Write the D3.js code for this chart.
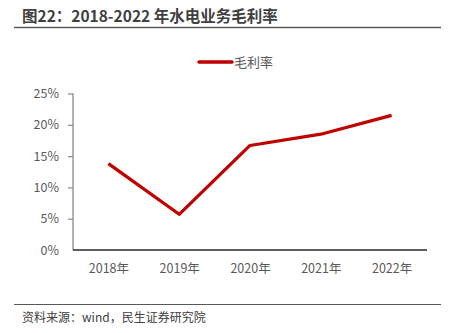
<!DOCTYPE html>
<html>
<head>
<meta charset="utf-8">
<script src="https://cdn.jsdelivr.net/npm/d3@7"></script>
<style>
  html, body { margin: 0; padding: 0; background: #fff; }
  svg { display: block; font-family: "Noto Sans CJK SC", "Noto Sans", sans-serif; }
</style>
</head>
<body>
<svg id="chart" width="455" height="333"></svg>
<script>
// Hydropower business gross margin, 2018-2022
const years = ["2018年", "2019年", "2020年", "2021年", "2022年"];
const grossMargin = [13.8, 5.7, 16.7, 18.5, 21.5];
const yTicks = [0, 5, 10, 15, 20, 25];
const seriesName = "毛利率";
const titleText = "图22：2018-2022 年水电业务毛利率";
const sourceText = "资料来源：wind，民生证券研究院";

const svg = d3.select("#chart");
const plot = { left: 73, right: 427, top: 93.5, bottom: 250 };

const x = d3.scalePoint().domain(years).range([plot.left, plot.right]).padding(0.5);
const y = d3.scaleLinear().domain([0, 25]).range([plot.bottom, plot.top]);

// Title and rules
svg.append("text")
  .attr("x", 22).attr("y", 22)
  .attr("font-size", 15.5).attr("font-weight", "bold").attr("fill", "#404040")
  .text(titleText);
svg.append("line")
  .attr("x1", 14).attr("x2", 441).attr("y1", 27.5).attr("y2", 27.5)
  .attr("stroke", "#595959").attr("stroke-width", 1.5);
svg.append("line")
  .attr("x1", 14).attr("x2", 441).attr("y1", 304.5).attr("y2", 304.5)
  .attr("stroke", "#595959").attr("stroke-width", 1.2);
svg.append("text")
  .attr("x", 22).attr("y", 322)
  .attr("font-size", 12).attr("fill", "#404040")
  .text(sourceText);

// Legend
svg.append("line")
  .attr("x1", 199).attr("x2", 232).attr("y1", 62).attr("y2", 62)
  .attr("stroke", "#C00000").attr("stroke-width", 3.5).attr("stroke-linecap", "round");
svg.append("text")
  .attr("x", 234).attr("y", 66.5)
  .attr("font-size", 13).attr("fill", "#595959")
  .text(seriesName);

// Y axis
const yAxis = svg.append("g")
  .attr("transform", `translate(${plot.left},0)`)
  .call(d3.axisLeft(y).tickValues(yTicks).tickFormat(d => d + "%").tickSize(5).tickPadding(9));
yAxis.select(".domain").attr("stroke", "#898989").attr("stroke-width", 1.3)
  .attr("d", `M0,${plot.top}V${plot.bottom}`);
yAxis.selectAll(".tick line").attr("stroke", "#898989").attr("stroke-width", 1.2);
yAxis.selectAll(".tick text").attr("fill", "#595959").attr("font-size", 12.5)
  .attr("font-family", "'Noto Sans CJK SC', sans-serif");
yAxis.selectAll(".tick").filter(d => d === 0).select("line").remove();

// X axis
const xAxis = svg.append("g")
  .attr("transform", `translate(0,${plot.bottom})`)
  .call(d3.axisBottom(x).tickSize(0).tickPadding(14));
xAxis.select(".domain").attr("stroke", "#262626").attr("stroke-width", 1.3)
  .attr("d", `M${plot.left},0H${plot.right}`);
xAxis.selectAll(".tick text").attr("fill", "#595959").attr("font-size", 12.5)
  .attr("font-family", "'Noto Sans CJK SC', sans-serif");

// Series line
const line = d3.line().x((d, i) => x(years[i])).y(d => y(d));
svg.append("path")
  .datum(grossMargin)
  .attr("d", line)
  .attr("fill", "none")
  .attr("stroke", "#C00000")
  .attr("stroke-width", 3.2)
  .attr("stroke-linejoin", "round")
  .attr("stroke-linecap", "butt");
</script>
</body>
</html>
